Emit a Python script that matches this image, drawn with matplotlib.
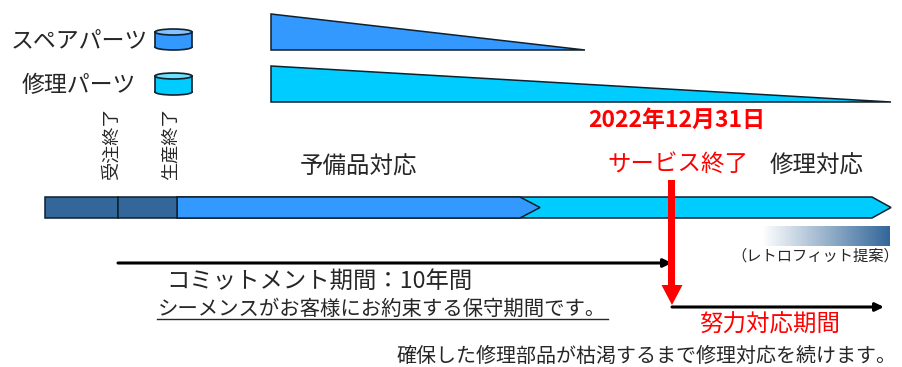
import numpy as np
import matplotlib
matplotlib.use("Agg")
import matplotlib.pyplot as plt
from matplotlib.colors import LinearSegmentedColormap
from matplotlib.patches import Ellipse, Polygon, Rectangle

plt.rcParams['font.family'] = ['Noto Sans CJK JP', 'DejaVu Sans']

# Lifecycle timeline, positions along the horizontal drawing scale
timeline_start = 45
order_end = 118
production_end = 177
spare_end = 540
service_end = 672
repair_end = 891
spare_stock_end = 585
commitment_start = 118
effort_end = 884

part_names = ['スペアパーツ', '修理パーツ']
milestones = ['受注終了', '生産終了']
phases = ['予備品対応', '修理対応']

BLUE = '#3399FF'
CYAN = '#00CCFF'
NAVY = '#336699'
RED = '#FF0000'
INK = '#262626'
EDGE = '#10202c'

fig = plt.figure(figsize=(9.03, 3.67), dpi=100)
ax = fig.add_axes([0, 0, 1, 1])
ax.set_xlim(0, 903)
ax.set_ylim(367, 0)
ax.axis('off')


def cylinder(x0, x1, y0, y1, color, rim):
    """Small drum symbol used as the key for each part type."""
    h = 6
    ax.add_patch(Ellipse(((x0 + x1) / 2, y1 - h / 2), x1 - x0, h, fc=color, ec=EDGE, lw=1.2, zorder=2))
    ax.add_patch(Rectangle((x0, y0 + h / 2), x1 - x0, y1 - y0 - h, fc=color, ec='none', zorder=3))
    ax.plot([x0, x0], [y0 + h / 2, y1 - h / 2], color=EDGE, lw=1.2, zorder=4)
    ax.plot([x1, x1], [y0 + h / 2, y1 - h / 2], color=EDGE, lw=1.2, zorder=4)
    ax.add_patch(Ellipse(((x0 + x1) / 2, y0 + h / 2), x1 - x0, h, fc=rim, ec=EDGE, lw=1.2, zorder=5))


# Stock level wedges
ax.add_patch(Polygon([(271, 14), (271, 50), (spare_stock_end, 50)], fc=BLUE, ec=EDGE, lw=1.1))
ax.add_patch(Polygon([(271, 66), (271, 102), (repair_end, 102)], fc=CYAN, ec=EDGE, lw=1.1))

# Part type key
cylinder(155, 192, 29, 50, BLUE, '#85C2FF')
cylinder(155, 192, 73, 95, CYAN, '#70E0FF')
ax.text(148, 41, part_names[0], fontsize=16.5, color=INK, ha='right', va='center')
ax.text(136, 85, part_names[1], fontsize=16.5, color=INK, ha='right', va='center')

# Milestone captions
ax.text(112, 144, milestones[0], fontsize=13.1, color=INK, rotation=90, ha='center', va='center')
ax.text(171, 144, milestones[1], fontsize=13.1, color=INK, rotation=90, ha='center', va='center')

# Phase captions and the end-of-service date
ax.text(359, 167, phases[0], fontsize=16.9, color=INK, ha='center', va='center')
ax.text(817, 166, phases[1], fontsize=16.9, color=INK, ha='center', va='center')
ax.text(677, 120, '2022年12月31日', fontsize=16.5, color=RED, weight='bold', ha='center', va='center')
ax.text(678, 164, 'サービス終了', fontsize=16.9, color=RED, ha='center', va='center')

# Main timeline band
top, bottom, mid = 197, 218, 207.5
ax.add_patch(Polygon([(production_end, top), (repair_end - 19, top), (repair_end, mid),
                      (repair_end - 19, bottom), (production_end, bottom)],
                     fc=CYAN, ec=EDGE, lw=1.1, zorder=2))
ax.add_patch(Polygon([(production_end, top), (spare_end - 20, top), (spare_end, mid),
                      (spare_end - 20, bottom), (production_end, bottom)],
                     fc=BLUE, ec=EDGE, lw=1.1, zorder=3))
ax.add_patch(Rectangle((timeline_start, top), order_end - timeline_start, bottom - top,
                       fc=NAVY, ec=EDGE, lw=1.1, zorder=3))
ax.add_patch(Rectangle((order_end, top), production_end - order_end, bottom - top,
                       fc=NAVY, ec=EDGE, lw=1.1, zorder=3))

# Retrofit proposal gradient
fade = LinearSegmentedColormap.from_list('fade', ['#FFFFFF', NAVY])
ax.imshow(np.linspace(0, 1, 256).reshape(1, -1), cmap=fade, aspect='auto',
          extent=(762, 890, 246, 226), zorder=2)
ax.set_xlim(0, 903)
ax.set_ylim(367, 0)
ax.text(815, 256, '（レトロフィット提案）', fontsize=11, color=INK, ha='center', va='center')

# Period arrows
for x0, x1, y in [(commitment_start, service_end, 263), (service_end, effort_end, 307)]:
    ax.annotate('', xy=(x1, y), xytext=(x0, y), zorder=4,
                arrowprops=dict(arrowstyle='-|>,head_length=0.5,head_width=0.24',
                                color='black', lw=2.2, shrinkA=0, shrinkB=0))

# Heavy end-of-service marker
ax.add_patch(Rectangle((service_end - 3.5, 180), 7, 106, fc=RED, ec='none', zorder=5))
ax.add_patch(Polygon([(service_end - 10.5, 285), (service_end + 10.5, 285), (service_end, 305)],
                     fc=RED, ec='none', zorder=5))

# Period descriptions
ax.text(319, 281, 'コミットメント期間：10年間', fontsize=16.8, color=INK, ha='center', va='center')
ax.text(382, 309, 'シーメンスがお客様にお約束する保守期間です。', fontsize=14.7, color=INK, ha='center', va='center')
ax.plot([157, 608], [319, 319], color=INK, lw=1)
ax.text(770, 325, '努力対応期間', fontsize=16.9, color=RED, ha='center', va='center')
ax.text(647, 356.5, '確保した修理部品が枯渇するまで修理対応を続けます。', fontsize=14.4, color=INK, ha='center', va='center')

fig.savefig('out.png', dpi=100, facecolor='white')
